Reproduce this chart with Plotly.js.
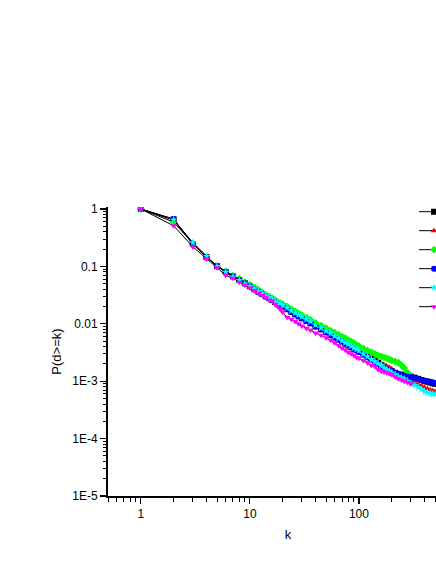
<!DOCTYPE html>
<html>
<head>
<meta charset="utf-8">
<script src="https://cdn.plot.ly/plotly-3.0.1.min.js"></script>
<style>
  html, body { margin: 0; padding: 0; overflow: hidden; background: #fff; }
  #chart { width: 520px; height: 564px; }
</style>
</head>
<body>
<div id="chart"></div>
<script>
// degree values k (shared by all series)
const k = [1, 2, 3, 4, 5, 6, 7, 8, 9, 10, 11, 12, 13, 14, 15, 16, 17, 18, 19, 20, 22, 24, 26, 28, 30, 33, 36, 40,
  45, 50, 55, 60, 65, 70, 75, 80, 85, 90, 95, 100, 110, 120, 130, 140, 150, 160, 170, 180, 190, 200,
  215, 230, 245, 260, 280, 300, 325, 350, 375, 400, 425, 450, 475, 500];

// cumulative distribution P(d>=k)
const pBlack = [1, 0.66, 0.245, 0.145, 0.101, 0.080, 0.067, 0.058, 0.051, 0.045, 0.040, 0.036, 0.033, 0.030,
  0.028, 0.026, 0.024, 0.022, 0.021, 0.020, 0.0180, 0.0162, 0.0147, 0.0135, 0.0125, 0.0112, 0.0102, 0.0090,
  0.0080, 0.0071, 0.0064, 0.0058, 0.0053, 0.0049, 0.0045, 0.0042, 0.0039, 0.0037, 0.0035, 0.0033, 0.0030,
  0.0027, 0.0025, 0.0023, 0.0021, 0.0019, 0.0018, 0.0017, 0.0016, 0.0015, 0.0014, 0.0013, 0.0013, 0.00125,
  0.0012, 0.0012, 0.00115, 0.0011, 0.00105, 0.0010, 0.00098, 0.00095, 0.00092, 0.00090];
const pRed = [1, 0.64, 0.25, 0.145, 0.100, 0.080, 0.067, 0.058, 0.051, 0.045, 0.040, 0.036, 0.033, 0.030,
  0.028, 0.026, 0.024, 0.022, 0.021, 0.020, 0.0180, 0.0162, 0.0147, 0.0135, 0.0125, 0.0112, 0.0102, 0.0090,
  0.0080, 0.0071, 0.0064, 0.0058, 0.0053, 0.0049, 0.0045, 0.0042, 0.0039, 0.0037, 0.0035, 0.0033, 0.0030,
  0.0027, 0.0025, 0.0023, 0.0021, 0.0020, 0.0019, 0.0018, 0.0017, 0.0016, 0.0014, 0.0013, 0.0012, 0.0011,
  0.00105, 0.0010, 0.00094, 0.00088, 0.00083, 0.00078, 0.00074, 0.00070, 0.00068, 0.00066];
const pGreen = [1, 0.59, 0.25, 0.145, 0.102, 0.082, 0.069, 0.061, 0.053, 0.048, 0.043, 0.039, 0.035, 0.032,
  0.030, 0.028, 0.026, 0.024, 0.023, 0.022, 0.020, 0.018, 0.0165, 0.0153, 0.0142, 0.0128, 0.0117, 0.0104,
  0.0093, 0.0084, 0.0076, 0.0070, 0.0064, 0.0060, 0.0056, 0.0052, 0.0049, 0.0046, 0.0043, 0.0041, 0.0037,
  0.0034, 0.0032, 0.0030, 0.0028, 0.0027, 0.0026, 0.0025, 0.0024, 0.0023, 0.0022, 0.0021, 0.0019, 0.0017,
  0.0014, 0.0012];
const pBlue = [1, 0.67, 0.245, 0.145, 0.101, 0.080, 0.067, 0.058, 0.051, 0.045, 0.040, 0.036, 0.033, 0.030,
  0.028, 0.026, 0.024, 0.022, 0.021, 0.020, 0.0180, 0.0162, 0.0147, 0.0135, 0.0125, 0.0112, 0.0102, 0.0090,
  0.0080, 0.0071, 0.0064, 0.0058, 0.0053, 0.0049, 0.0045, 0.0042, 0.0039, 0.0036, 0.0034, 0.0032, 0.0029,
  0.0026, 0.0024, 0.0022, 0.0020, 0.0018, 0.0017, 0.0016, 0.00155, 0.0015, 0.0014, 0.00135, 0.0013, 0.00125,
  0.0012, 0.00118, 0.00112, 0.00108, 0.00105, 0.00102, 0.0010, 0.00098, 0.00095, 0.00093];
const pCyan = [1, 0.65, 0.26, 0.150, 0.100, 0.080, 0.066, 0.057, 0.050, 0.045, 0.041, 0.037, 0.034, 0.031,
  0.029, 0.027, 0.025, 0.023, 0.022, 0.021, 0.019, 0.017, 0.0155, 0.0143, 0.0133, 0.0120, 0.0110, 0.0096,
  0.0085, 0.0075, 0.0068, 0.0061, 0.0056, 0.0051, 0.0047, 0.0044, 0.0041, 0.0038, 0.0036, 0.0034, 0.0030,
  0.0027, 0.0024, 0.0022, 0.0020, 0.0019, 0.0017, 0.0016, 0.0015, 0.0014, 0.0013, 0.0012, 0.00115, 0.0011,
  0.0010, 0.0009, 0.00085, 0.00078, 0.00072, 0.00066, 0.00064, 0.00062, 0.00060, 0.00059];
const pMagenta = [1, 0.51, 0.22, 0.135, 0.095, 0.070, 0.062, 0.053, 0.047, 0.042, 0.038, 0.034, 0.031, 0.029,
  0.026, 0.025, 0.022, 0.020, 0.018, 0.016, 0.0130, 0.0120, 0.0110, 0.0100, 0.0092, 0.0084, 0.0078, 0.0069,
  0.0063, 0.0057, 0.0052, 0.0047, 0.0042, 0.0038, 0.0035, 0.0032, 0.0030, 0.0028, 0.0026, 0.0025, 0.0023,
  0.0021, 0.0019, 0.0018, 0.0016, 0.0015, 0.00145, 0.0014, 0.00135, 0.0013, 0.0012, 0.0011, 0.00105, 0.0010,
  0.00095, 0.0009];

const seriesColors = ["#000000", "#ff0000", "#00ff00", "#0000ff", "#00ffff", "#ff00ff"];
const seriesSymbols = ["square", "triangle-up", "diamond", "circle", "star", "triangle-down"];
const seriesData = [pBlack, pRed, pGreen, pBlue, pCyan, pMagenta];

const yTickVals = [1, 0.1, 0.01, 0.001, 0.0001, 0.00001];
const yTickText = ["1", "0.1", "0.01", "1E-3", "1E-4", "1E-5"];
const xTickVals = [1, 10, 100];
const xTickText = ["1", "10", "100"];

// minor ticks 2..9 within each decade
function minorTicks(lo, hi) {
  const out = [];
  for (let d = lo; d < hi; d *= 10) {
    for (let m = 2; m <= 9; m++) out.push(+(d * m).toPrecision(3));
  }
  return out;
}

// legend labels sit past the right edge in the original, so only the symbols show
const traces = seriesData.map((p, i) => ({
  x: k.slice(0, p.length),
  y: p,
  name: " ",
  mode: "lines+markers",
  line: { color: "#000000", width: 1 },
  marker: { color: seriesColors[i], symbol: seriesSymbols[i], size: 6 },
}));

const axisFont = { family: "Liberation Sans, Arial, sans-serif", size: 12, color: "#000" };

const layout = {
  width: 520,
  height: 564,
  margin: { l: 108, r: 52, t: 207, b: 68 },
  paper_bgcolor: "#ffffff",
  plot_bgcolor: "#ffffff",
  font: axisFont,
  showlegend: true,
  legend: {
    x: 0.85, y: 1.034, xanchor: "left", yanchor: "top",
    bgcolor: "rgba(0,0,0,0)",
    font: { family: "Liberation Sans, Arial, sans-serif", size: 12, color: "#000" },
    tracegroupgap: 0,
  },
  xaxis: {
    type: "log",
    range: [Math.log10(0.5), 3],
    showgrid: false, zeroline: false,
    showline: true, linecolor: "#000", linewidth: 2,
    ticks: "outside", ticklen: 6, tickwidth: 1.2, tickcolor: "#000",
    tickmode: "array", tickvals: xTickVals, ticktext: xTickText,
    minor: { tickvals: minorTicks(0.1, 1000), ticks: "outside", ticklen: 4, tickwidth: 1, tickcolor: "#000" },
    title: { text: "k", font: { size: 13 }, standoff: 9 },
  },
  yaxis: {
    type: "log",
    range: [-5, 0.035],
    showgrid: false, zeroline: false,
    showline: true, linecolor: "#000", linewidth: 2,
    ticks: "outside", ticklen: 6, tickwidth: 1.2, tickcolor: "#000",
    tickmode: "array", tickvals: yTickVals, ticktext: yTickText,
    minor: { tickvals: minorTicks(0.00001, 1), ticks: "outside", ticklen: 3, tickwidth: 1, tickcolor: "#000" },
    title: { text: "P(d>=k)", font: { size: 13 }, standoff: 8 },
  },
};

Plotly.newPlot("chart", traces, layout, { displayModeBar: false, staticPlot: true });
</script>
</body>
</html>
